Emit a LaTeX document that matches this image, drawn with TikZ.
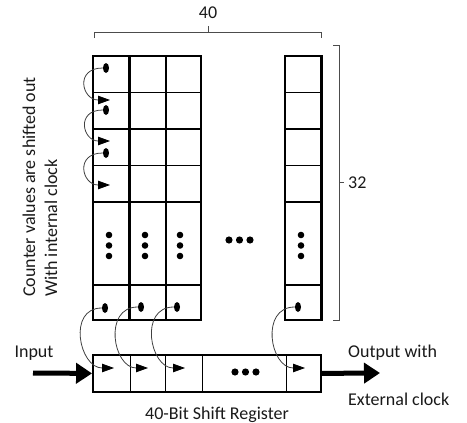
\documentclass[tikz,border=0pt]{standalone}
\usepackage{fontspec}
\setmainfont{Carlito}
\usetikzlibrary{arrows.meta, shapes.geometric}

\begin{document}
\begin{tikzpicture}[
        x = 1pt, y = -1pt,
        >= {Triangle[length = 12pt, width = 8.5pt, color = black]},
        bitdot/.style = {ellipse, fill, inner sep = 0pt, minimum width = 6pt, minimum height = 10pt},
        colbox/.style = {line width = 2.3pt},
        rowline/.style = {line width = 1.1pt},
        shiftarrow/.style = {->, line width = 0.8pt, black!75},
        bracket/.style = {line width = 0.9pt, black!70},
        txt/.style = {font = \fontsize{18}{20}\selectfont, text = black!90, inner sep = 0pt},
        bigarrow/.style = {-{Triangle[length = 16pt, width = 20pt]}, line width = 5pt}
    ]
    \useasboundingbox (0,0) rectangle (467,423);

        % the 40 counter columns
        \foreach \l/\r in {93/129.5, 129.5/166, 166/201, 285/321.5} {
            \foreach \y in {92.5, 129, 165.5, 202, 285}
                \draw[rowline] (\l,\y) -- (\r,\y);
            \draw[colbox] (\l,56) rectangle (\r,320);
        }
        \foreach \cx in {109, 145, 180, 301}
            \foreach \cy in {235, 245.5, 256}
                \fill (\cx,\cy) circle (3.3pt);
        \foreach \cx in {229, 239.5, 250}
            \fill (\cx,240) circle (3.6pt);

        % internal clock shifting
        \node[bitdot] (d1) at (106,68) {};
        \node[bitdot] (d2) at (106,110) {};
        \node[bitdot] (d3) at (106,153) {};
        \coordinate (t1) at (110,100);
        \coordinate (t2) at (110,141);
        \coordinate (t3) at (110,185);
        \foreach \i in {1,2,3}
            \draw[shiftarrow] (d\i.west) to[out=180, in=180, looseness=2.2] (t\i);

        % shift register
        \node[draw, line width = 2pt, minimum width = 227.7pt, minimum height = 36.7pt, inner sep = 0pt] (reg) at (206.9,373.4) {};
        \foreach \x in {130, 165.7, 202.3, 286}
            \draw[line width = 1pt] (\x,355) -- (\x,391.7);
        \foreach \cx in {235, 245.5, 256}
            \fill (\cx,372) circle (3.6pt);

        \node[bitdot] (b1) at (105,308) {};
        \node[bitdot] (b2) at (141,307) {};
        \node[bitdot] (b3) at (177,307) {};
        \node[bitdot] (b4) at (298,307) {};
        \coordinate (r1) at (114,368);
        \coordinate (r2) at (148,368);
        \coordinate (r3) at (185,368);
        \coordinate (r4) at (305,368);
        \foreach \i in {1,...,4}
            \draw[shiftarrow] (b\i.west) to[out=180, in=180, looseness=1.45] (r\i);

        \coordinate (inp) at (33,373);
        \coordinate (outp) at (380,373);
        \draw[bigarrow] (inp) -- (reg.west);
        \draw[bigarrow] (reg.east) -- (outp);

        % size brackets
        \draw[bracket] (94,38) -- (94,32) -- (321.7,32) -- (321.7,38);
        \draw[bracket] (208,32) -- (208,26);
        \draw[bracket] (333,45) -- (339,45) -- (339,320) -- (333,320);
        \draw[bracket] (339,182) -- (344,182);

        % labels
        \node[txt, anchor = base] (lbl40) at (208,18) {40};
        \node[txt, anchor = base west] (lbl32) at (348,188) {32};
        \node[txt, anchor = base] (inlbl) at (34,357) {Input};
        \node[txt, anchor = base west] (outlbl) at (348,357) {Output with};
        \node[txt, anchor = base west] (extlbl) at (348,405) {External clock};
        \node[txt, anchor = base] (reglbl) at (217,419) {40-Bit Shift Register};
        \node[txt, rotate = 90, anchor = base west] (cap1) at (35,297) {Counter values are shifted out};
        \node[txt, rotate = 90, anchor = base west] (cap2) at (57,297) {With internal clock};

\end{tikzpicture}
\end{document}
